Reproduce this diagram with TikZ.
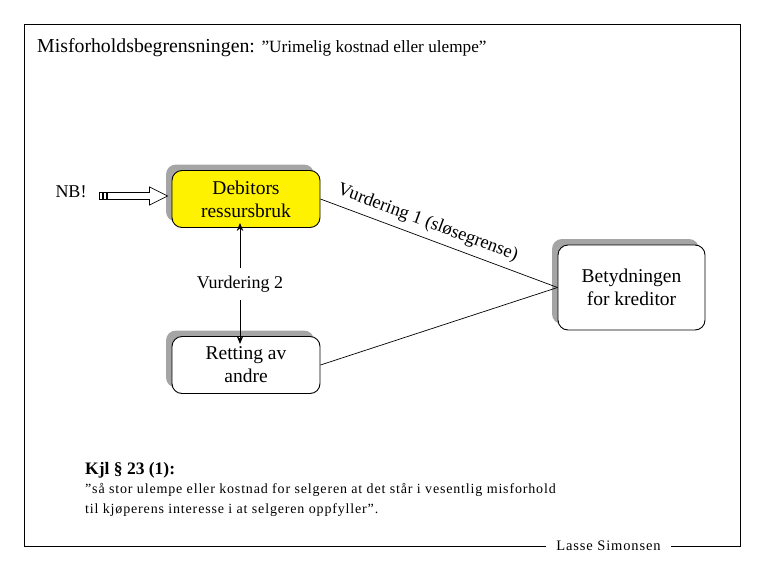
\documentclass[tikz,border=0pt]{standalone}
\usepackage{fontspec}
\setmainfont{Liberation Serif}
\newfontfamily\spaced[LetterSpace=6]{Liberation Serif}
\usetikzlibrary{shadows,arrows.meta}
\definecolor{shadowgray}{RGB}{165,165,165}
\tikzset{
  boxnode/.style={draw=black, line width=0.9pt, rounded corners=10pt, minimum width=148pt, minimum height=57pt,
    align=center, font=\fontsize{19.5}{23}\selectfont,
    drop shadow={shadow xshift=-6pt, shadow yshift=6pt, fill=shadowgray, opacity=1}},
  conn/.style={line width=0.7pt},
  varrow/.style={line width=1pt, -{Stealth[length=8pt,width=6.5pt]}},
  smallbar/.style={draw=black, line width=0.7pt, minimum width=3pt, minimum height=7pt, inner sep=0},
}
\begin{document}
\begin{tikzpicture}[x=1pt,y=-1pt]
\useasboundingbox (0,0) rectangle (765,570);
% title
\node[anchor=base west, inner sep=0] (title) at (37,52) {\fontsize{19.8}{24}\selectfont Misforholdsbegrensningen: \fontsize{17.2}{18}\selectfont ”Urimelig kostnad eller ulempe”};
% boxes
\node[boxnode, fill=yellow] (deb) at (246,199) {Debitors\\ressursbruk};
\node[boxnode, fill=white] (ret) at (246,365) {Retting av\\andre};
\node[boxnode, fill=white, minimum width=147pt, minimum height=85pt] (bet) at (631.5,287.5) {Betydningen\\for kreditor};
% NB
\node[font=\fontsize{18}{20}\selectfont, inner sep=0] (nb) at (71,192) {NB!};
\coordinate (nbtip) at ([xshift=-4pt]deb.west |- 0,196);
\draw[line width=0.7pt, fill=white] (nbtip) -- ++(-18,-9) -- ++(0,5.5) -- ++(-42,0) -- ++(0,7) -- ++(42,0) -- ++(0,5.5) -- cycle;
\node[smallbar] (bar1) at (101,195.5) {};
\node[smallbar] (bar2) at (105,195.5) {};
% vurdering 2
\node[font=\fontsize{18}{20}\selectfont, minimum height=32pt, inner sep=0] (v2) at (240,284) {Vurdering 2};
\draw[varrow] (v2.north) -- ([yshift=5pt]deb.south -| v2.north);
\draw[varrow] (v2.south) -- ([yshift=-8pt]ret.north -| v2.south);
% connectors to Betydningen
\draw[conn] (deb.east) -- (bet.west) node[pos=0.43, above=3pt, sloped, font=\fontsize{18.5}{20}\selectfont] {Vurdering 1 (sløsegrense)};
\draw[conn] (ret.east) -- (bet.west);
% Kjl text
\node[anchor=base west, inner sep=0, font=\bfseries\fontsize{17.5}{18}\selectfont] (kjl) at (85,474) {Kjl § 23 (1):};
\node[anchor=base west, inner sep=0, font=\spaced\fontsize{14}{16}\selectfont] (q1) at (85,493)
  {”så stor ulempe eller kostnad for selgeren at det står i vesentlig misforhold};
\node[anchor=base west, inner sep=0, font=\spaced\fontsize{14}{16}\selectfont] (q2) at (85,513)
  {til kjøperens interesse i at selgeren oppfyller”.};
% footer and frame
\node[font=\spaced\fontsize{14.5}{16}\selectfont, inner sep=0, outer sep=10pt] (lasse) at (608.5,546) {Lasse Simonsen};
\draw[line width=1pt] (lasse.west) -- (24,546) -- (24,24) -- (740,24) -- (740,546) -- (lasse.east);
\end{tikzpicture}
\end{document}
